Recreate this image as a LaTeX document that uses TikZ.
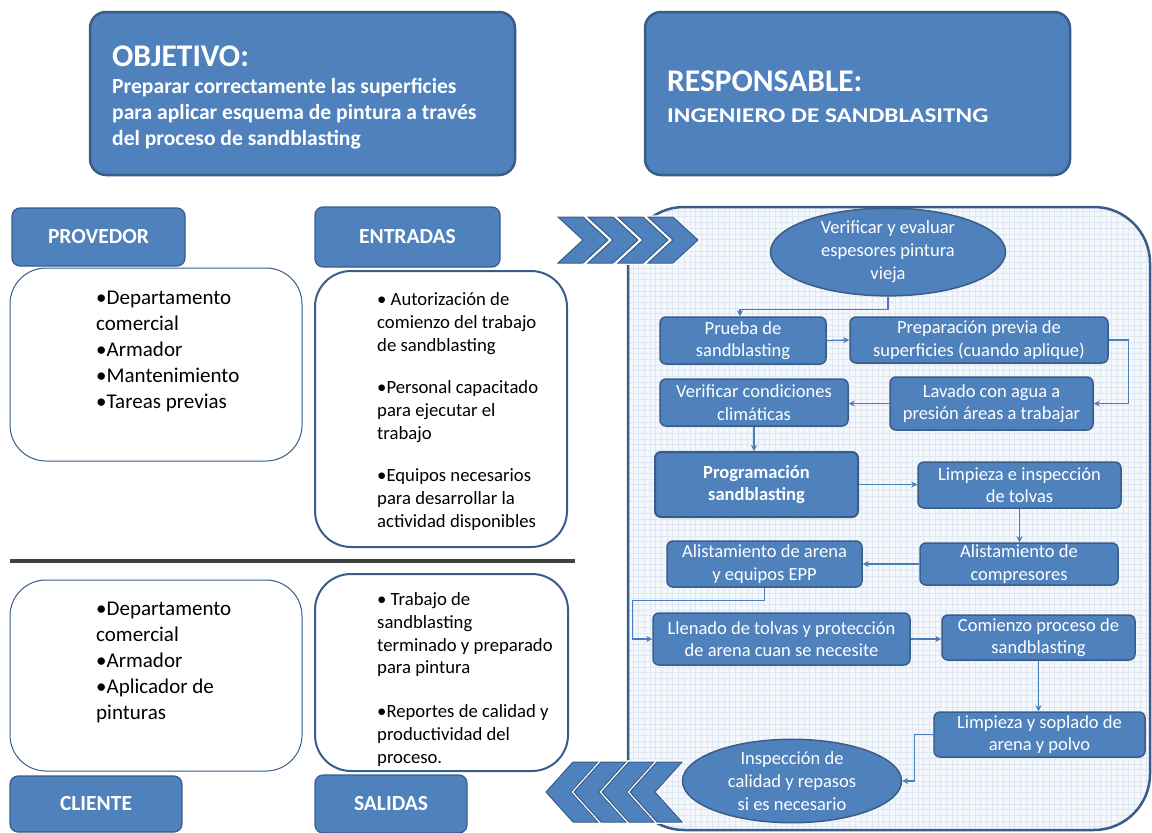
\documentclass[tikz,border=0pt]{standalone}
\usepackage{fontspec}
\setmainfont{Carlito}
\usetikzlibrary{arrows.meta, positioning, shapes.geometric, calc}
\definecolor{bluefill}{HTML}{4F81BD}
\definecolor{blueedge}{HTML}{385D8A}
\definecolor{linkblue}{HTML}{4A7EBB}
\definecolor{gridback}{HTML}{F4F7FB}
\definecolor{gridline}{HTML}{DFE7F2}
\definecolor{sepgray}{HTML}{404040}

\begin{document}
\begin{tikzpicture}[x=1pt, y=-1pt,
      bigbox/.style={
         draw=blueedge,
         fill=bluefill,
         line width=2.5pt,
         rounded corners=16pt,
         inner sep=0pt},
      headbox/.style={
         draw=blueedge,
         fill=bluefill,
         line width=1.2pt,
         rounded corners=8pt,
         text=white,
         inner sep=0pt,
         font=\fontsize{21.5}{24}\selectfont\bfseries},
      listbox/.style={
         draw=blueedge,
         fill=white,
         line width=1pt,
         rounded corners=36pt,
         inner sep=0pt},
      listtext/.style={
         anchor=base west,
         align=left,
         inner sep=0pt},
      boxtext/.style={
         anchor=base west,
         align=left,
         inner sep=0pt,
         text=white},
      proc/.style={
         draw=blueedge,
         fill=bluefill,
         line width=1.5pt,
         rounded corners=6pt,
         text=white,
         align=center,
         inner sep=0pt,
         font=\fontsize{18.5}{22.5}\selectfont},
      procell/.style={
         ellipse,
         draw=blueedge,
         fill=bluefill,
         line width=1.5pt,
         text=white,
         align=center,
         inner sep=0pt,
         font=\fontsize{18.5}{23}\selectfont},
      chev/.style={
         draw=blueedge,
         fill=bluefill,
         line width=1pt,
         preaction={draw=white, line width=3.5pt}},
      myarrow/.style={draw=linkblue, line width=1.3pt, -{Stealth[length=6pt,width=6pt]}}
      ]
      \useasboundingbox (0,0) rectangle (1152,833);

      % top boxes (base of a text block = baseline of its last line)
      \node[bigbox, minimum width=425pt, minimum height=163pt] (objetivo) at (302.5,93.5) {};
      \node[boxtext, font=\fontsize{31.5}{34}\selectfont\bfseries] (objtitle) at (112,66) {OBJETIVO:};
      \node[boxtext, font=\fontsize{21.6}{26}\selectfont\bfseries] (objtext) at (112,145)
         {Preparar correctamente las superficies\\para aplicar esquema de pintura a través\\del proceso de sandblasting};

      \node[bigbox, minimum width=425pt, minimum height=163pt] (responsable) at (857.5,93.5) {};
      \node[boxtext, font=\fontsize{31.5}{34}\selectfont\bfseries] (resptitle) at (667,91) {RESPONSABLE:};
      \node[boxtext, font=\fontsize{21}{24}\selectfont\bfseries] (resptext) at (667,122) {\scalebox{1.2}[1]{INGENIERO DE SANDBLASITNG}};

      % left columns
      \node[headbox, minimum width=173pt, minimum height=58pt] (provedor) at (98.5,237) {PROVEDOR};
      \node[headbox, minimum width=185pt, minimum height=60pt] (entradas) at (407.5,237) {ENTRADAS};
      \node[listbox, minimum width=292pt, minimum height=193pt] (provlist) at (156,364.5) {};
      \node[listbox, line width=2pt, minimum width=252pt, minimum height=276pt] (entlist) at (441,409) {};
      \node[listtext, font=\fontsize{21}{25.8}\selectfont] (provtext) at (96,408)
         {•Departamento\\comercial\\•Armador\\•Mantenimiento\\•Tareas previas};
      \node[listtext, font=\fontsize{18.7}{23}\selectfont] (enttext) at (377,527)
         {• Autorización de\\comienzo del trabajo\\de sandblasting\\[19pt]•Personal capacitado\\para ejecutar el\\trabajo\\[19pt]•Equipos necesarios\\para desarrollar la\\actividad disponibles};

      \draw[sepgray, line width=4pt] (10,561) -- (575,561);

      \node[listbox, minimum width=292pt, minimum height=191pt] (clilist) at (156,675.5) {};
      \node[listbox, line width=2pt, minimum width=253pt, minimum height=197pt] (sallist) at (441.5,672.5) {};
      \node[listtext, font=\fontsize{21}{25.8}\selectfont] (clitext) at (96,719)
         {•Departamento\\comercial\\•Armador\\•Aplicador de\\pinturas};
      \node[listtext, font=\fontsize{18.7}{22.7}\selectfont] (saltext) at (377,763)
         {• Trabajo de\\sandblasting\\terminado y preparado\\para pintura\\[21pt]•Reportes de calidad y\\productividad del\\proceso.};
      \node[headbox, minimum width=172pt, minimum height=56pt] (cliente) at (96,804) {CLIENTE};
      \node[headbox, minimum width=152pt, minimum height=58pt] (salidas) at (391,804) {SALIDAS};

      % process area
      \begin{scope}
         \clip[rounded corners=56pt] (628,207) rectangle (1150,830);
         \fill[gridback] (628,207) rectangle (1150,830);
         \draw[gridline, line width=0.35pt, step=5.7pt] (628,207) grid (1150,830);
      \end{scope}
      \draw[blueedge, line width=2.5pt, rounded corners=56pt] (628,207) rectangle (1150,830);

      \foreach \i in {0,...,3}
         \draw[chev] (558+30*\i,217) -- ++(25,0) -- ++(25,23) -- ++(-25,23) -- ++(-25,0) -- ++(25,-23) -- cycle;
      \foreach \i in {0,...,3}
         \draw[chev] (546+28*\i,792) -- ++(27,-30) -- ++(25,0) -- ++(-27,30) -- ++(27,30) -- ++(-25,0) -- cycle;

      \node[procell, minimum width=235pt, minimum height=74pt] (verif) at (888,252) {Verificar y evaluar\\espesores pintura\\vieja};
      \node[proc, minimum width=166pt, minimum height=47pt] (prueba) at (743,340.5) {Prueba de\\sandblasting};
      \node[proc, minimum width=258pt, minimum height=46pt] (prepar) at (979,340) {Preparación previa de\\superficies (cuando aplique)};
      \node[proc, minimum width=188pt, minimum height=47pt] (climat) at (754,402.5) {Verificar condiciones\\climáticas};
      \node[proc, minimum width=203pt, minimum height=53pt] (lavado) at (991.5,403.5) {Lavado con agua a\\presión áreas a trabajar};
      \node[proc, line width=2pt, minimum width=203pt, minimum height=65pt, font=\fontsize{18.5}{22.5}\selectfont\bfseries] (program) at (756.5,484.5) {Programación\\sandblasting};
      \node[proc, minimum width=203pt, minimum height=46pt] (tolvas) at (1019.5,485) {Limpieza e inspección\\de tolvas};
      \node[proc, minimum width=195pt, minimum height=46pt] (arena) at (764.5,564) {Alistamiento de arena\\y equipos EPP};
      \node[proc, minimum width=198pt, minimum height=42pt] (compres) at (1019,564) {Alistamiento de\\compresores};
      \node[proc, minimum width=257pt, minimum height=52pt] (llenado) at (781.5,639) {Llenado de tolvas y protección\\de arena cuan se necesite};
      \node[proc, minimum width=193pt, minimum height=45pt] (comienzo) at (1038.5,637.5) {Comienzo proceso de\\sandblasting};
      \node[proc, minimum width=211pt, minimum height=45pt] (soplado) at (1039.5,734.5) {Limpieza y soplado de\\arena y polvo};
      \node[procell, minimum width=219pt, minimum height=82pt] (inspec) at (792,781) {Inspección de\\calidad y repasos\\si es necesario};

      % flow
      \draw[myarrow] (verif.south) -- ++(0,13) -| ([xshift=-3pt]prueba.north);
      \draw[myarrow] (prueba.east) -- (prepar.west);
      \draw[myarrow] (prepar.east) -- ++(20,0) |- (lavado.east);
      \draw[myarrow] (lavado.west) -- (lavado.west -| climat.east);
      \draw[myarrow] (climat.south) -- (climat.south |- program.north);
      \draw[myarrow] (program.east) -- (program.east -| tolvas.west);
      \draw[myarrow] (tolvas.south) -- (tolvas.south |- compres.north);
      \draw[myarrow] (compres.west) -- (compres.west -| arena.east);
      \draw[myarrow] (arena.south) -- ++(0,13) -| ([xshift=-20pt]llenado.west) -- (llenado.west);
      \draw[myarrow] (llenado.east) -- (llenado.east -| comienzo.west);
      \draw[myarrow] (comienzo.south) -- (comienzo.south |- soplado.north);
      \draw[myarrow] (soplado.west) -- ++(-19,0) |- (inspec.east);
\end{tikzpicture}
\end{document}
